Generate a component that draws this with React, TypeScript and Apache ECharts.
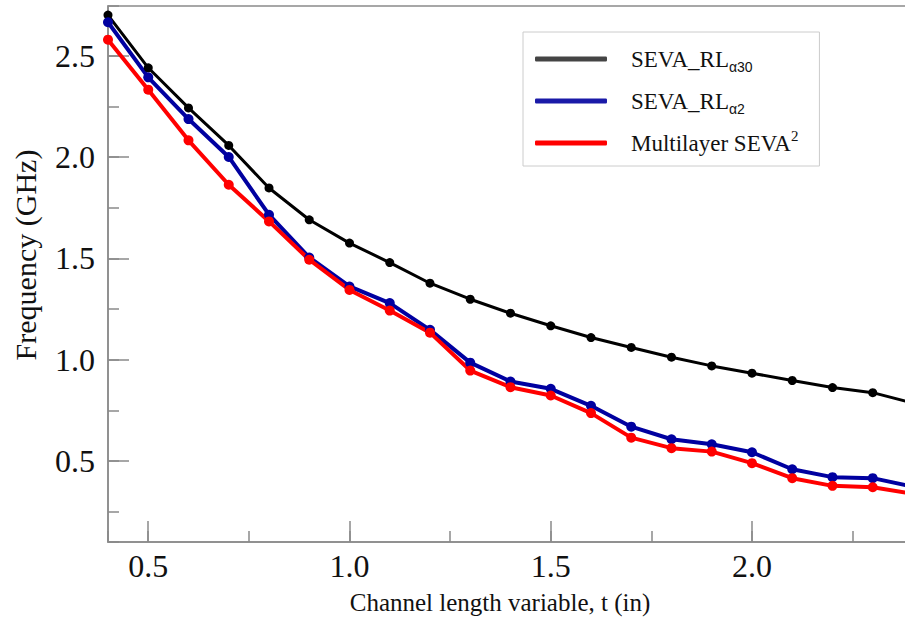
import React, { useEffect, useRef } from 'react';
import * as echarts from 'echarts';

// Channel length variable, t (in)
const tValues = [0.4, 0.5, 0.6, 0.7, 0.8, 0.9, 1.0, 1.1, 1.2, 1.3, 1.4, 1.5, 1.6, 1.7, 1.8, 1.9, 2.0, 2.1, 2.2, 2.3, 2.4];
// Frequency (GHz)
const sevaRlA30 = [2.70, 2.44, 2.242, 2.057, 1.847, 1.69, 1.575, 1.479, 1.377, 1.298, 1.229, 1.167, 1.109, 1.06, 1.012, 0.969, 0.933, 0.897, 0.862, 0.837, 0.786];
const sevaRlA2 = [2.665, 2.393, 2.187, 2.0, 1.715, 1.504, 1.361, 1.279, 1.147, 0.985, 0.892, 0.856, 0.772, 0.669, 0.607, 0.582, 0.543, 0.459, 0.42, 0.415, 0.373];
const multilayerSeva2 = [2.579, 2.332, 2.082, 1.863, 1.682, 1.493, 1.344, 1.242, 1.133, 0.946, 0.864, 0.823, 0.736, 0.615, 0.563, 0.546, 0.489, 0.415, 0.377, 0.37, 0.338];

const seriesNames = ['SEVA_RLα30', 'SEVA_RLα2', 'Multilayer SEVA2'];
const legendRich: Record<string, string> = {
  'SEVA_RLα30': '{m|SEVA_RL}{s|α30}',
  'SEVA_RLα2': '{m|SEVA_RL}{s|α2}',
  'Multilayer SEVA2': '{m|Multilayer SEVA}{p|2}',
};

const xTitle = 'Channel length variable, t (in)';
const yTitle = 'Frequency (GHz)';

const SERIF = '"Liberation Serif", "Times New Roman", serif';
const AXIS_GRAY = '#8a8a8a';

const pairs = (ys: number[]) => tValues.map((t, i) => [t, ys[i]]);

export default function App() {
  const ref = useRef<HTMLDivElement>(null);
  useEffect(() => {
    if (!ref.current) return;
    const chart = echarts.init(ref.current, undefined, { renderer: 'svg' });
    const xMin = 0.4;
    const xMax = 2.405;
    const yMin = 0.1;
    const yMax = 2.745;
    const tickLine = { color: AXIS_GRAY, width: 1.5 };
    chart.setOption({
      animation: false,
      backgroundColor: '#ffffff',
      grid: {
        left: 108,
        right: -10,
        top: 6,
        bottom: 83,
        show: true,
        borderColor: AXIS_GRAY,
        borderWidth: 1.5,
        outerBoundsMode: 'none',
        containLabel: false,
      },
      legend: {
        orient: 'vertical',
        left: 523,
        top: 32,
        padding: [12, 21, 8, 12],
        itemGap: 12,
        itemWidth: 72,
        itemHeight: 5,
        icon: 'roundRect',
        borderColor: '#cccccc',
        borderWidth: 1,
        backgroundColor: '#ffffff',
        data: [
          { name: seriesNames[0], itemStyle: { color: '#444444' } },
          { name: seriesNames[1], itemStyle: { color: '#1a1aa8' } },
          { name: seriesNames[2], itemStyle: { color: '#ff0000' } },
        ],
        formatter: (name: string) => legendRich[name] || name,
        textStyle: {
          padding: [0, 0, 0, 19],
          color: '#111',
          fontFamily: SERIF,
          fontSize: 23,
          lineHeight: 30,
          rich: {
            m: { fontFamily: SERIF, fontSize: 23, lineHeight: 30, color: '#111' },
            s: { fontFamily: '"Liberation Sans", Arial, sans-serif', fontSize: 14, lineHeight: 22, verticalAlign: 'bottom', color: '#111' },
            p: { fontFamily: SERIF, fontSize: 15, lineHeight: 17, verticalAlign: 'top', color: '#111' },
          },
        },
      },
      xAxis: [
        {
          type: 'value',
          position: 'bottom',
          min: xMin,
          max: xMax,
          minInterval: 0.5,
          maxInterval: 0.5,
          name: xTitle,
          nameLocation: 'middle',
          nameGap: 48,
          nameTextStyle: { fontFamily: SERIF, fontSize: 25, color: '#111', padding: [0, 23, 0, 0] },
          axisLine: { show: true, lineStyle: tickLine },
          axisTick: { show: true, inside: true, length: 21, lineStyle: tickLine },
          splitLine: { show: false },
          axisLabel: {
            show: true,
            margin: 8,
            fontFamily: SERIF,
            fontSize: 32,
            color: '#111',
            showMinLabel: false,
            showMaxLabel: false,
            formatter: (v: number) => v.toFixed(1),
          },
        },
        {
          type: 'value',
          position: 'bottom',
          min: xMin,
          max: xMax,
          minInterval: 0.25,
          maxInterval: 0.25,
          axisLine: { show: false },
          axisTick: { show: true, inside: true, length: 11, lineStyle: tickLine },
          splitLine: { show: false },
          axisLabel: { show: false },
        },
      ],
      yAxis: [
        {
          type: 'value',
          position: 'left',
          min: yMin,
          max: yMax,
          minInterval: 0.5,
          maxInterval: 0.5,
          name: yTitle,
          nameLocation: 'middle',
          nameGap: 68,
          nameRotate: 90,
          nameTextStyle: { fontFamily: SERIF, fontSize: 30, color: '#111', padding: [0, 0, 0, 38] },
          axisLine: { show: true, lineStyle: tickLine },
          axisTick: { show: true, inside: true, length: 21, lineStyle: tickLine },
          splitLine: { show: false },
          axisLabel: {
            show: true,
            margin: 13,
            fontFamily: SERIF,
            fontSize: 32,
            color: '#111',
            padding: [8, 0, 0, 0],
            showMinLabel: false,
            showMaxLabel: false,
            formatter: (v: number) => v.toFixed(1),
          },
        },
        {
          type: 'value',
          position: 'left',
          min: yMin,
          max: yMax,
          minInterval: 0.25,
          maxInterval: 0.25,
          axisLine: { show: false },
          axisTick: { show: true, inside: true, length: 11, lineStyle: tickLine },
          splitLine: { show: false },
          axisLabel: { show: false },
        },
      ],
      series: [
        {
          name: seriesNames[0],
          type: 'line',
          data: pairs(sevaRlA30),
          symbol: 'circle',
          symbolSize: 9,
          lineStyle: { color: '#000000', width: 3 },
          itemStyle: { color: '#000000' },
        },
        {
          name: seriesNames[1],
          type: 'line',
          data: pairs(sevaRlA2),
          symbol: 'circle',
          symbolSize: 10,
          lineStyle: { color: '#0000a0', width: 4 },
          itemStyle: { color: '#0000a0' },
        },
        {
          name: seriesNames[2],
          type: 'line',
          data: pairs(multilayerSeva2),
          symbol: 'circle',
          symbolSize: 10,
          lineStyle: { color: '#ff0000', width: 4 },
          itemStyle: { color: '#ff0000' },
        },
      ],
    });
    return () => chart.dispose();
  }, []);
  return (
    <div
      ref={ref}
      style={{ position: 'fixed', left: 0, top: 0, width: 905, height: 625, background: '#fff' }}
    />
  );
}
